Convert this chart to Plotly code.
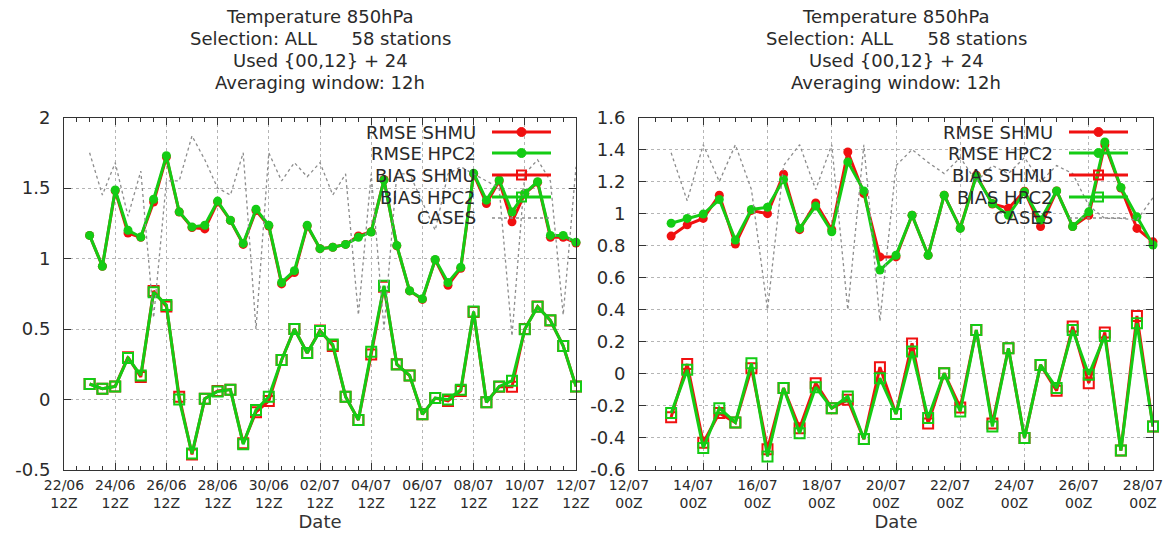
import plotly.graph_objects as go
import pandas as pd

W, H = 1165, 540

# ---------------- data: left panel ----------------
left_start = "2007-06-23 12:00"
left_rmse_shmu = [1.164, 0.945, 1.48, 1.18, 1.15, 1.40, 1.72, 1.33, 1.22, 1.21, 1.40, 1.27, 1.10,
                  1.34, 1.23, 0.82, 0.90, 1.23, 1.07, 1.08, 1.10, 1.16, 1.19, 1.56, 1.09, 0.77,
                  0.71, 0.99, 0.81, 0.93, 1.60, 1.39, 1.55, 1.26, 1.46, 1.54, 1.15, 1.15, 1.11]
left_rmse_hpc2 = [1.164, 0.945, 1.486, 1.20, 1.152, 1.42, 1.729, 1.331, 1.224, 1.236, 1.407, 1.271,
                  1.107, 1.35, 1.236, 0.83, 0.914, 1.236, 1.07, 1.08, 1.10, 1.15, 1.188, 1.557,
                  1.093, 0.771, 0.714, 0.993, 0.83, 0.938, 1.605, 1.414, 1.557, 1.33, 1.462,
                  1.545, 1.164, 1.164, 1.116]
left_bias_shmu = [0.11, 0.076, 0.093, 0.30, 0.16, 0.77, 0.66, 0.02, -0.39, 0.005, 0.06, 0.07,
                  -0.31, -0.09, -0.01, 0.28, 0.50, 0.33, 0.49, 0.38, 0.02, -0.145, 0.32, 0.80,
                  0.25, 0.17, -0.105, 0.01, -0.01, 0.06, 0.62, -0.02, 0.09, 0.09, 0.50, 0.66,
                  0.56, 0.38, 0.093]
left_bias_hpc2 = [0.11, 0.076, 0.093, 0.295, 0.171, 0.76, 0.671, 0.0, -0.383, 0.005, 0.057, 0.07,
                  -0.317, -0.074, 0.02, 0.28, 0.50, 0.33, 0.486, 0.39, 0.02, -0.145, 0.338,
                  0.807, 0.248, 0.171, -0.105, 0.01, 0.0, 0.07, 0.624, -0.02, 0.093, 0.133,
                  0.498, 0.657, 0.562, 0.379, 0.093]
left_cases = [1.75, 1.45, 1.68, 1.30, 1.62, 0.58, 1.55, 1.55, 1.87, 1.70, 1.50, 1.45, 1.75, 0.50,
              1.75, 1.55, 1.68, 1.58, 1.68, 1.45, 1.60, 0.60, 1.60, 0.50, 1.60, 1.60, 1.40, 1.20,
              1.60, 1.65, 1.60, 1.55, 1.50, 0.45, 1.60, 1.70, 1.55, 0.60, 1.65]
left_tick_dates = ["2007-06-22 12:00", "2007-06-24 12:00", "2007-06-26 12:00", "2007-06-28 12:00",
                   "2007-06-30 12:00", "2007-07-02 12:00", "2007-07-04 12:00", "2007-07-06 12:00",
                   "2007-07-08 12:00", "2007-07-10 12:00", "2007-07-12 12:00"]
left_tick_day = ["22/06", "24/06", "26/06", "28/06", "30/06", "02/07", "04/07", "06/07",
                 "08/07", "10/07", "12/07"]
left_tick_hour = ["12Z"] * 11
left_yticks = [-0.5, 0, 0.5, 1, 1.5, 2]
left_ytext = ["-0.5", "0", "0.5", "1", "1.5", "2"]

# ---------------- data: right panel ----------------
right_start = "2007-07-13 00:00"
right_rmse_shmu = [0.86, 0.93, 0.97, 1.115, 0.81, 1.02, 1.00, 1.246, 0.90, 1.067, 0.90, 1.385,
                   1.126, 0.73, 0.73, 0.99, 0.74, 1.115, 0.91, 1.24, 1.06, 1.034, 1.14, 0.92,
                   1.142, 0.92, 0.99, 1.43, 1.16, 0.908, 0.824]
right_rmse_hpc2 = [0.94, 0.97, 0.997, 1.088, 0.835, 1.026, 1.04, 1.213, 0.908, 1.047, 0.887,
                   1.323, 1.142, 0.648, 0.74, 0.99, 0.74, 1.115, 0.908, 1.234, 1.063, 0.99,
                   1.136, 0.96, 1.142, 0.92, 1.011, 1.447, 1.163, 0.98, 0.804]
right_bias_shmu = [-0.27, 0.062, -0.43, -0.245, -0.303, 0.035, -0.47, -0.089, -0.34, -0.058,
                   -0.214, -0.162, -0.407, 0.042, -0.25, 0.19, -0.31, 0.004, -0.21, 0.274,
                   -0.31, 0.16, -0.40, 0.056, -0.105, 0.295, -0.058, 0.258, -0.478, 0.361,
                   -0.328]
right_bias_hpc2 = [-0.245, 0.025, -0.463, -0.214, -0.303, 0.066, -0.515, -0.089, -0.37, -0.083,
                   -0.214, -0.141, -0.407, -0.027, -0.25, 0.139, -0.276, 0.004, -0.235, 0.274,
                   -0.328, 0.16, -0.40, 0.056, -0.089, 0.274, -0.006, 0.237, -0.478, 0.316,
                   -0.328]
right_cases = [1.38, 1.08, 1.43, 1.20, 1.43, 1.15, 0.40, 1.30, 1.43, 1.15, 1.43, 0.40, 1.43, 0.33,
               1.30, 1.40, 1.32, 1.25, 1.35, 1.20, 1.30, 1.25, 1.35, 1.20, 1.30, 1.25, 1.05, 0.97,
               0.97, 0.96, 1.10]
right_tick_dates = ["2007-07-12", "2007-07-14", "2007-07-16", "2007-07-18", "2007-07-20",
                    "2007-07-22", "2007-07-24", "2007-07-26", "2007-07-28"]
right_tick_day = ["12/07", "14/07", "16/07", "18/07", "20/07", "22/07", "24/07", "26/07", "28/07"]
right_tick_hour = ["00Z"] * 9
right_yticks = [-0.6, -0.4, -0.2, 0, 0.2, 0.4, 0.6, 0.8, 1, 1.2, 1.4, 1.6]
right_ytext = ["-0.6", "-0.4", "-0.2", "0", "0.2", "0.4", "0.6", "0.8", "1", "1.2", "1.4", "1.6"]

title_lines = ["Temperature 850hPa",
               "Selection: ALL\u00a0\u00a0\u00a0\u00a0\u00a0\u00a058 stations",
               "Used {00,12} + 24",
               "Averaging window: 12h"]
legend_names = ["RMSE SHMU", "RMSE HPC2", "BIAS SHMU", "BIAS HPC2", "CASES"]

RED = "#f01010"
GREEN = "#14cc14"
GRAY = "#8c8c8c"
TXT = "#2a2a2a"
FONT = "DejaVu Sans"

left_x = pd.date_range(left_start, periods=len(left_rmse_hpc2), freq="12h")
right_x = pd.date_range(right_start, periods=len(right_rmse_hpc2), freq="12h")

def px(x):
    return x / W

def py(y):
    return 1 - y / H

fig = go.Figure()

def add_panel(xs, rs, rh, bs, bh, cs, xa, ya):
    common = dict(xaxis=xa, yaxis=ya, showlegend=False, cliponaxis=False, hoverinfo="skip")
    fig.add_trace(go.Scatter(x=xs, y=rs, mode="lines+markers", line=dict(color=RED, width=3),
                             marker=dict(symbol="circle", size=9, color=RED), **common))
    fig.add_trace(go.Scatter(x=xs, y=rh, mode="lines+markers", line=dict(color=GREEN, width=3),
                             marker=dict(symbol="circle", size=9, color=GREEN), **common))
    fig.add_trace(go.Scatter(x=xs, y=bs, mode="lines+markers", line=dict(color=RED, width=3),
                             marker=dict(symbol="square-open", size=10, color=RED,
                                         line=dict(width=2)), **common))
    fig.add_trace(go.Scatter(x=xs, y=bh, mode="lines+markers", line=dict(color=GREEN, width=3),
                             marker=dict(symbol="square-open", size=10, color=GREEN,
                                         line=dict(width=2)), **common))
    fig.add_trace(go.Scatter(x=xs, y=cs, mode="lines", line=dict(color=GRAY, width=1.3, dash="dot"),
                             **common))

add_panel(left_x, left_rmse_shmu, left_rmse_hpc2, left_bias_shmu, left_bias_hpc2, left_cases, "x", "y")
add_panel(right_x, right_rmse_shmu, right_rmse_hpc2, right_bias_shmu, right_bias_hpc2, right_cases,
          "x2", "y2")

# panel geometry (pixels)
L_left, L_right = 64, 576
R_left, R_right = 639, 1153
TOP, BOT = 117.5, 470

ydom = [py(BOT), py(TOP)]

def xaxis_main(dom, rng, tvals, days, hours, t0, anchor, shift):
    ttext = [d + "<br>" + h for d, h in zip(days, hours)]
    return dict(domain=dom, type="date", range=rng, tickmode="array", tickvals=tvals,
                ticktext=ttext, ticks="inside", ticklen=7, tickcolor="#333", anchor=anchor,
                showline=True, linecolor="#333", linewidth=1, mirror="allticks",
                showgrid=True, gridcolor="#b5b5b5", griddash="dot", gridwidth=1,
                zeroline=False, tickangle=0, ticklabelstandoff=2, automargin=False,
                ticklabeloverflow="allow", ticklabelshift=shift,
                tickfont=dict(family=FONT, size=14, color=TXT),
                minor=dict(dtick=43200000, tick0=t0, ticks="inside", ticklen=4,
                           tickcolor="#333", showgrid=False),
                title=dict(text="Date", font=dict(family=FONT, size=18, color="#333"), standoff=3))

def yaxis(dom, rng, tvals, ttext, anchor):
    return dict(domain=dom, range=rng, tickmode="array", tickvals=tvals, ticktext=ttext,
                ticks="inside", ticklen=7, tickcolor="#333", showline=True, linecolor="#333",
                linewidth=1, mirror="allticks", showgrid=True, gridcolor="#b5b5b5",
                griddash="dot", gridwidth=1, zeroline=False, anchor=anchor, automargin=False,
                ticklabelstandoff=9, tickfont=dict(family=FONT, size=18, color=TXT))

left_range = ["2007-06-22 12:00", "2007-07-12 12:00"]
right_range = ["2007-07-12 00:00", "2007-07-28 00:00"]

fig.update_layout(
    width=W, height=H, autosize=False,
    margin=dict(l=0, r=0, t=0, b=0, pad=0),
    paper_bgcolor="white", plot_bgcolor="white",
    xaxis=xaxis_main([px(L_left), px(L_right)], left_range, left_tick_dates, left_tick_day,
                     left_tick_hour, "2007-06-22 12:00", "y", 0),
    xaxis2=xaxis_main([px(R_left), px(R_right)], right_range, right_tick_dates, right_tick_day,
                      right_tick_hour, "2007-07-12 00:00", "y2", -10),
    yaxis=yaxis(ydom, [-0.5, 2.0], left_yticks, left_ytext, "x"),
    yaxis2=yaxis(ydom, [-0.6, 1.6], right_yticks, right_ytext, "x2"),
)

# titles (one annotation per line, gnuplot line spacing)
annotations = []
title_y = [17, 39, 61, 83]
for cx in [(L_left + L_right) / 2, (R_left + R_right) / 2]:
    for line, ty in zip(title_lines, title_y):
        annotations.append(dict(x=px(cx), y=py(ty), xref="paper", yref="paper", xanchor="center",
                                yanchor="middle", showarrow=False, text=line,
                                font=dict(family=FONT, size=18, color=TXT)))

# in-plot legends (gnuplot style: text then sample)
shapes = []
row_y = [132, 153, 175, 197, 218]
styles = [(RED, "circle"), (GREEN, "circle"), (RED, "square"), (GREEN, "square"), (GRAY, None)]
for right_edge in [L_right, R_right]:
    tx = right_edge - 98
    s1, s2 = right_edge - 84, right_edge - 25
    for name, ry, (col, mk) in zip(legend_names, row_y, styles):
        annotations.append(dict(x=px(tx), y=py(ry), xref="paper", yref="paper", xanchor="right",
                                yanchor="middle", showarrow=False, text=name,
                                font=dict(family=FONT, size=18, color=TXT)))
        if mk is None:
            shapes.append(dict(type="line", xref="paper", yref="paper", x0=px(s1), x1=px(s2),
                               y0=py(ry), y1=py(ry), line=dict(color=col, width=1.3, dash="dot")))
        else:
            shapes.append(dict(type="line", xref="paper", yref="paper", x0=px(s1), x1=px(s2),
                               y0=py(ry), y1=py(ry), line=dict(color=col, width=3)))
            cxm = (s1 + s2) / 2
            if mk == "circle":
                shapes.append(dict(type="circle", xref="paper", yref="paper",
                                   x0=px(cxm - 4.5), x1=px(cxm + 4.5), y0=py(ry - 4.5),
                                   y1=py(ry + 4.5), fillcolor=col, line=dict(color=col, width=1)))
            else:
                shapes.append(dict(type="rect", xref="paper", yref="paper",
                                   x0=px(cxm - 4.5), x1=px(cxm + 4.5), y0=py(ry - 4.5),
                                   y1=py(ry + 4.5), fillcolor="rgba(0,0,0,0)",
                                   line=dict(color=col, width=2)))

fig.update_layout(annotations=annotations, shapes=shapes)
fig.write_html("out.html")
